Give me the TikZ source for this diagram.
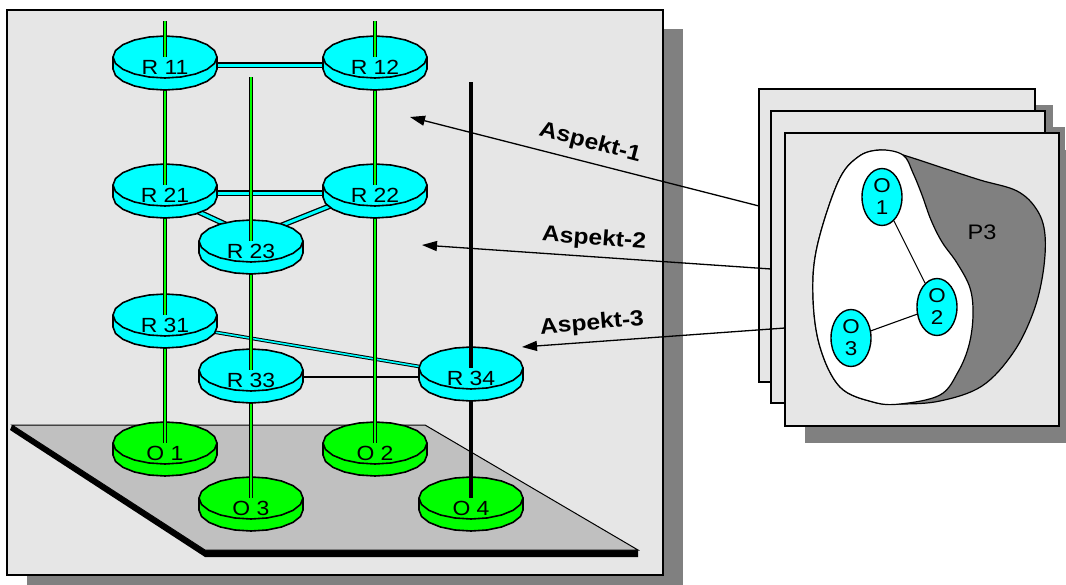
\documentclass[tikz,border=0pt]{standalone}
\usepackage{fontspec}
\setmainfont{Liberation Sans}[FakeStretch=1.12]
\usetikzlibrary{arrows.meta,shapes.geometric}

\definecolor{panelgray}{HTML}{E6E6E6}
\definecolor{shadowgray}{HTML}{808080}
\definecolor{floorgray}{HTML}{C0C0C0}
\definecolor{routercyan}{HTML}{00FFFF}
\definecolor{objgreen}{HTML}{00FF00}
\definecolor{regiongray}{HTML}{808080}

\tikzset{
  panel/.style={fill=panelgray, draw=black, line width=1.5pt},
  shadebox/.style={fill=shadowgray, draw=none},
  diskline/.style={draw=black, line width=1.6pt, line join=round},
  pipe/.style={draw=black, line width=1.1pt, double=objgreen, double distance=2.2pt},
  cyanlink/.style={draw=black, line width=1.3pt, double=routercyan, double distance=3pt},
  thinlink/.style={draw=black, line width=1pt, double=routercyan, double distance=1.6pt},
  blackpipe/.style={draw=black, line width=3.2pt},
  blacklink/.style={draw=black, line width=2.8pt},
  disklabel/.style={font=\fontsize{20.5}{20.5}\selectfont, inner sep=0pt},
  aspect/.style={font=\bfseries\fontsize{22}{22}\selectfont, inner sep=0pt},
  aspectarrow/.style={draw=black, line width=1.3pt, -{Triangle[length=15pt,width=10pt]}},
  objell/.style={ellipse, draw=black, line width=1.4pt, fill=routercyan,
    minimum width=40pt, minimum height=57pt, inner sep=0pt, align=center,
    font=\fontsize{20}{22}\selectfont},
  objlink/.style={draw=black, line width=1.1pt},
}

% a flat, slightly faceted cylinder (router or object) on a named coordinate
\newcommand\drawdisk[3]{%
  \begin{scope}[shift={(#1)}]
    \path[diskline, fill=#2] (-52,0) -- (-52,12)
      -- plot[domain=180:0, samples=11] ({52*cos(\x)},{12+21*sin(\x)})
      -- (52,0) -- cycle;
    \path[diskline, fill=#2]
      plot[domain=0:342, samples=20] ({52*cos(\x)},{21*sin(\x)}) -- cycle;
  \end{scope}
  \node[disklabel] (#1-label) at ([yshift=-10pt]#1) {#3};
}

\begin{document}
\begin{tikzpicture}[x=1pt, y=-1pt]
\useasboundingbox (0,0) rectangle (1066,584);

% ---------- main panel ----------
\path[shadebox] (27,29) rectangle (683,590);
\path[panel, line width=2pt] (7,10) rectangle (663,575);

% floor plate with its dark edge
\fill[black] (12,425) -- (205,550) -- (638,550) -- (638,557) -- (205,557) -- (10,430) -- cycle;
\path[fill=floorgray, draw=black, line width=1pt] (12,425) -- (425,425) -- (638,550) -- (205,550) -- cycle;

% ---------- positions ----------
\coordinate (R11) at (165,57);
\coordinate (R12) at (375,57);
\coordinate (R21) at (165,185);
\coordinate (R22) at (375,185);
\coordinate (R23) at (251,241);
\coordinate (R31) at (165,315);
\coordinate (R33) at (251,370);
\coordinate (R34) at (471,368);
\coordinate (O1) at (165,443);
\coordinate (O2) at (375,443);
\coordinate (O3) at (251,498);
\coordinate (O4) at (471,498);
\coordinate (top11) at (165,21);
\coordinate (top12) at (375,21);
\coordinate (top23) at (251,77);
\coordinate (top34) at (471,82);

% ---------- links between routers ----------
\draw[cyanlink] ([yshift=-8pt]R11) -- ([yshift=-8pt]R12);
\draw[cyanlink] ([yshift=-8pt]R21) -- ([yshift=-8pt]R22);
\draw[cyanlink] ([shift={(10,16)}]R21) -- ([shift={(-11,-10)}]R23);
\draw[cyanlink] ([shift={(-15,9)}]R22) -- ([shift={(14,-9)}]R23);
\draw[thinlink] ([shift={(25,13)}]R31) -- ([shift={(-31,2)}]R34);
\draw[blacklink] ([yshift=-7pt]R33) -- ([yshift=-9pt]R34);

% ---------- objects on the floor ----------
\drawdisk{O1}{objgreen}{O 1}
\drawdisk{O2}{objgreen}{O 2}
\drawdisk{O3}{objgreen}{O 3}
\drawdisk{O4}{objgreen}{O 4}

\draw[pipe] (R31) -- (O1);
\draw[pipe] (R33) -- (O3);
\draw[pipe] (R22) -- (O2);
\draw[blackpipe] (R34) -- (O4);

% ---------- lowest router layer ----------
\drawdisk{R31}{routercyan}{R 31}
\drawdisk{R33}{routercyan}{R 33}
\drawdisk{R34}{routercyan}{R 34}
\draw[blackpipe] (top34) -- (R34);

\draw[pipe] (R21) -- (R31);
\draw[pipe] (R23) -- (R33);

% ---------- middle router layer ----------
\drawdisk{R21}{routercyan}{R 21}
\drawdisk{R22}{routercyan}{R 22}
\drawdisk{R23}{routercyan}{R 23}
\draw[pipe] (top23) -- (R23);

\draw[pipe] (R11) -- (R21);
\draw[pipe] (R12) -- (R22);

% ---------- top router layer ----------
\drawdisk{R11}{routercyan}{R 11}
\drawdisk{R12}{routercyan}{R 12}
\draw[pipe] (top11) -- (R11);
\draw[pipe] (top12) -- (R12);

% ---------- stacked aspect panels ----------
\path[shadebox] (777,105) rectangle (1053,398);
\path[panel] (759,89) rectangle (1035,382);
\path[shadebox] (789,127) rectangle (1065,419);
\path[panel] (771,111) rectangle (1045,403);
\path[shadebox] (805,150) rectangle (1079,443);
\path[panel] (785,133) rectangle (1059,426);

% partition P3 and its complement
\path[fill=regiongray, draw=black, line width=1.2pt]
  plot[smooth cycle, tension=0.6] coordinates {
    (880,150) (903,155) (940,167) (980,180) (1017,191) (1037,210) (1045,235)
    (1043,273) (1033,313) (1013,353) (982,386) (940,401) (900,404) (873,402)
    (840,387) (820,347) (813,297) (817,247) (838,182) (858,157)};
\path[fill=white, draw=black, line width=1.2pt]
  plot[smooth cycle, tension=0.6] coordinates {
    (880,150) (903,155) (913,173) (922,195) (931,220) (942,242) (957,263)
    (970,288) (973,315) (969,345) (958,372) (940,395) (900,404) (873,402)
    (840,387) (820,347) (813,297) (817,247) (838,182) (858,157)};
\node[font=\fontsize{21}{21}\selectfont, inner sep=0pt] (p3) at (982,232) {P3};

\node[objell] (pO1) at (882,197) {O\\1};
\node[objell] (pO2) at (937,307) {O\\2};
\node[objell] (pO3) at (851,338) {O\\3};
\draw[objlink] (pO1) -- (pO2);
\draw[objlink] (pO3) -- (pO2);

% ---------- aspect arrows ----------
\coordinate (A1from) at (759,206);
\coordinate (A1to) at (410,117);
\coordinate (A2from) at (771,269);
\coordinate (A2to) at (422,245);
\coordinate (A3from) at (785,328);
\coordinate (A3to) at (522,347);
\draw[aspectarrow] (A1from) -- (A1to);
\draw[aspectarrow] (A2from) -- (A2to);
\draw[aspectarrow] (A3from) -- (A3to);
\node[aspect, rotate=-14.5] (asp1) at (590,143) {Aspekt-1};
\node[aspect, rotate=-4.3] (asp2) at (594,239) {Aspekt-2};
\node[aspect, rotate=5] (asp3) at (592,324) {Aspekt-3};
\end{tikzpicture}
\end{document}
